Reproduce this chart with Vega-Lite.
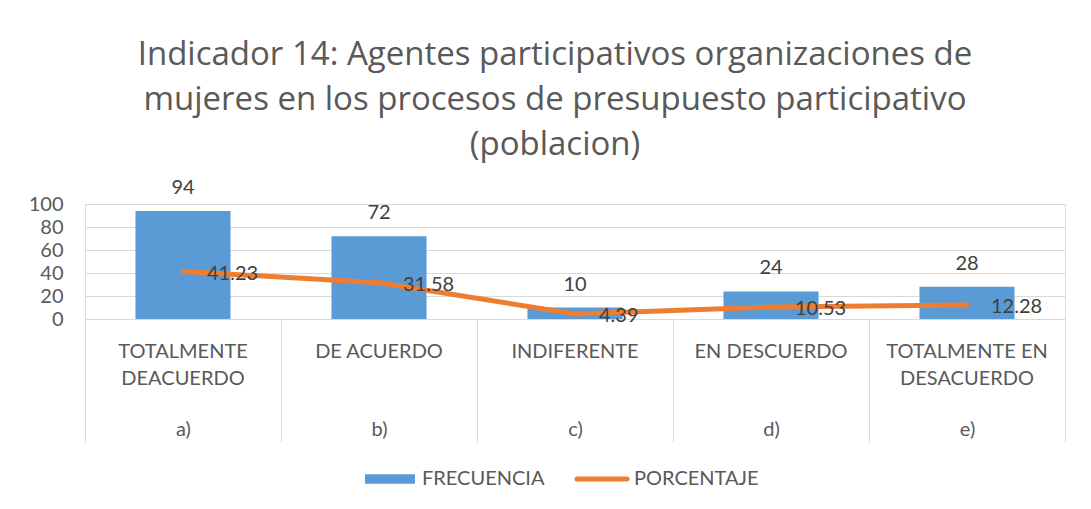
{
  "$schema": "https://vega.github.io/schema/vega-lite/v6.json",
  "width": 980,
  "height": 115,
  "autosize": {"type": "none"},
  "padding": {"left": 85, "top": 204, "right": 26, "bottom": 190},
  "background": "white",
  "config": {
    "axis": {"labelOverlap": false},
    "axisY": {"labelOverlap": false, "domain": false, "ticks": false, "labelFont": "Lato", "labelFontSize": 20, "labelColor": "#595959", "labelPadding": 22, "gridColor": "#D9D9D9", "gridWidth": 1, "title": null}
  },
  "title": {
    "text": ["Indicador 14: Agentes participativos organizaciones de", "mujeres en los procesos de presupuesto participativo", "(poblacion)"],
    "font": "Open Sans",
    "fontSize": 33,
    "fontWeight": "normal",
    "color": "#595959",
    "lineHeight": 45,
    "anchor": "middle",
    "frame": "group",
    "dx": -20,
    "offset": 16
  },
  "data": {
    "values": [
      {"letra": "a)", "nombre": "TOTALMENTE DEACUERDO", "serieBarra": "FRECUENCIA", "serieLinea": "PORCENTAJE", "frecuencia": 94, "porcentaje": 41.23},
      {"letra": "b)", "nombre": "DE ACUERDO", "serieBarra": "FRECUENCIA", "serieLinea": "PORCENTAJE", "frecuencia": 72, "porcentaje": 31.58},
      {"letra": "c)", "nombre": "INDIFERENTE", "serieBarra": "FRECUENCIA", "serieLinea": "PORCENTAJE", "frecuencia": 10, "porcentaje": 4.39},
      {"letra": "d)", "nombre": "EN DESCUERDO", "serieBarra": "FRECUENCIA", "serieLinea": "PORCENTAJE", "frecuencia": 24, "porcentaje": 10.53},
      {"letra": "e)", "nombre": "TOTALMENTE EN DESACUERDO", "serieBarra": "FRECUENCIA", "serieLinea": "PORCENTAJE", "frecuencia": 28, "porcentaje": 12.28}
    ]
  },
  "resolve": {"scale": {"x": "independent"}, "axis": {"x": "independent"}},
  "layer": [
    {
      "mark": {"type": "bar", "width": {"band": 0.485}},
      "encoding": {
        "x": {
          "field": "letra",
          "type": "nominal",
          "sort": null,
          "scale": {"paddingInner": 0, "paddingOuter": 0},
          "axis": {
            "orient": "bottom",
            "title": null,
            "labelAngle": 0,
            "labelFont": "Lato",
            "labelFontSize": 20,
            "labelColor": "#595959",
            "labelLineHeight": 27,
            "labelBaseline": "top",
            "labelPadding": 22,
            "labelOverlap": false,
            "labelExpr": "datum.value == 'a)' ? ['TOTALMENTE','DEACUERDO'] : datum.value == 'b)' ? 'DE ACUERDO' : datum.value == 'c)' ? 'INDIFERENTE' : datum.value == 'd)' ? 'EN DESCUERDO' : ['TOTALMENTE EN','DESACUERDO']",
            "ticks": false,
            "domainColor": "#D9D9D9",
            "domainWidth": 1
          }
        },
        "y": {
          "field": "frecuencia",
          "type": "quantitative",
          "scale": {"domain": [0, 100]},
          "axis": {"values": [0, 20, 40, 60, 80, 100], "labelOverlap": false}
        },
        "color": {
          "field": "serieBarra",
          "type": "nominal",
          "scale": {"domain": ["FRECUENCIA", "PORCENTAJE"], "range": ["#5B9BD5", "#ED7D31"]},
          "legend": {
            "title": null,
            "orient": "none",
            "legendX": 295,
            "legendY": 265,
            "direction": "horizontal",
            "labelFont": "Lato",
            "labelFontSize": 20,
            "labelColor": "#595959",
            "labelOffset": 22,
            "symbolSize": 2500,
            "columnPadding": 22,
            "encode": {
              "symbols": {
                "update": {
                  "shape": {"signal": "datum.value === 'FRECUENCIA' ? 'M-1,-0.19H1V0.19H-1Z' : 'M-1,0H1'"},
                  "fill": {"signal": "datum.value === 'FRECUENCIA' ? '#5B9BD5' : 'transparent'"},
                  "stroke": {"signal": "datum.value === 'FRECUENCIA' ? 'transparent' : '#ED7D31'"},
                  "strokeWidth": {"signal": "datum.value === 'FRECUENCIA' ? 0 : 5"},
                  "strokeCap": {"value": "round"},
                  "opacity": {"value": 1}
                }
              }
            }
          }
        }
      }
    },
    {
      "mark": {"type": "text", "font": "Lato", "fontSize": 20, "color": "#404040", "baseline": "alphabetic", "dy": -17},
      "encoding": {
        "x": {
          "field": "letra",
          "type": "nominal",
          "sort": null,
          "scale": {"paddingInner": 0, "paddingOuter": 0},
          "axis": {
            "orient": "bottom",
            "title": null,
            "labelAngle": 0,
            "labelFont": "Lato",
            "labelFontSize": 20,
            "labelColor": "#595959",
            "labelBaseline": "top",
            "labelPadding": 100,
            "labelOverlap": false,
            "ticks": false,
            "domain": false
          }
        },
        "y": {"field": "frecuencia", "type": "quantitative", "scale": {"domain": [0, 100]}, "axis": {"values": [0, 20, 40, 60, 80, 100], "labelOverlap": false}},
        "text": {"field": "frecuencia", "type": "quantitative"}
      }
    },
    {
      "mark": {"type": "line", "strokeWidth": 5, "strokeCap": "round", "strokeJoin": "round"},
      "encoding": {
        "x": {
          "field": "letra",
          "type": "nominal",
          "sort": null,
          "scale": {"paddingInner": 0, "paddingOuter": 0},
          "axis": {
            "orient": "bottom",
            "title": null,
            "labels": false,
            "domain": false,
            "tickBand": "extent",
            "tickSize": 123,
            "tickColor": "#D9D9D9",
            "tickWidth": 1
          }
        },
        "y": {"field": "porcentaje", "type": "quantitative", "scale": {"domain": [0, 100]}, "axis": {"values": [0, 20, 40, 60, 80, 100], "labelOverlap": false}},
        "color": {"field": "serieLinea", "type": "nominal"}
      }
    },
    {
      "mark": {"type": "text", "font": "Lato", "fontSize": 20, "color": "#404040", "align": "left", "baseline": "middle", "dx": 24, "dy": 2},
      "encoding": {
        "x": {"field": "letra", "type": "nominal", "sort": null, "scale": {"paddingInner": 0, "paddingOuter": 0}, "axis": null},
        "y": {"field": "porcentaje", "type": "quantitative", "scale": {"domain": [0, 100]}, "axis": {"values": [0, 20, 40, 60, 80, 100], "labelOverlap": false}},
        "text": {"field": "porcentaje", "type": "quantitative", "format": ".2f"}
      }
    }
  ]
}
